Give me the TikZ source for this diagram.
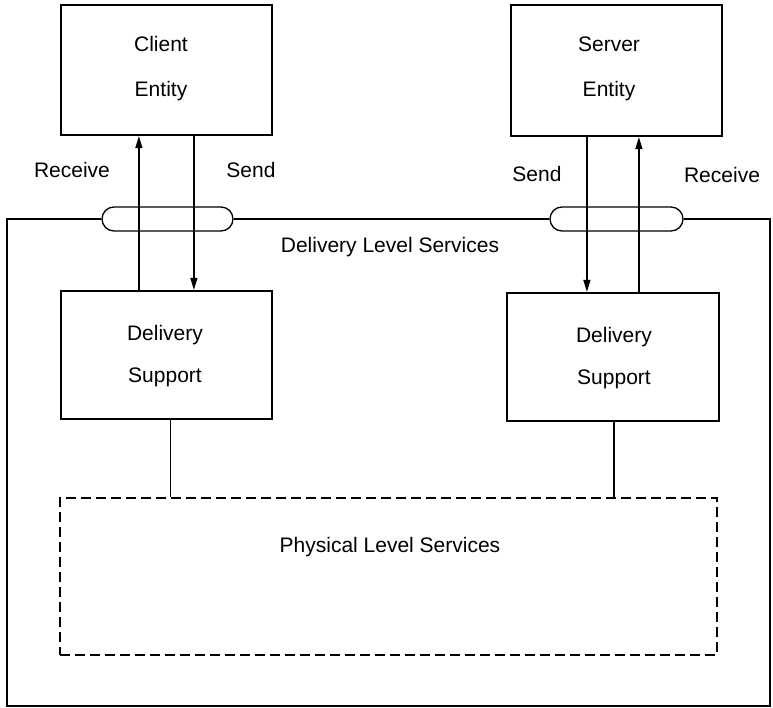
\documentclass[tikz,border=0pt]{standalone}
\usepackage{fontspec}
\setmainfont{Liberation Sans}
\usetikzlibrary{arrows.meta,calc}
\begin{document}
\begin{tikzpicture}[x=1pt,y=-1pt,
  font=\fontsize{21}{25}\selectfont,
  entitybox/.style={draw,line width=2.2pt,minimum width=211pt,minimum height=130pt,inner sep=0pt},
  boxtext/.style={align=center,inner sep=0pt},
  oval/.style={draw,line width=1.3pt,rounded corners=12pt,minimum height=24pt,inner sep=0pt},
  frame/.style={line width=2.2pt},
  flow/.style={line width=1.3pt,-{Triangle[length=12pt,width=7pt]}},
  link/.style={line width=1.2pt},
  physbox/.style={draw,line width=2.5pt,dash pattern=on 10pt off 5pt,
    minimum width=657pt,minimum height=157pt},
  lbl/.style={inner sep=0pt}
]
\useasboundingbox (0,0) rectangle (773,708);

% upper-level entities
\node[entitybox] (ce) at (166.5,70) {};
\node[boxtext] (cetext) at (161,69) {Client\\[20pt]Entity};
\node[entitybox,minimum height=131pt] (se) at (616.5,70.5) {};
\node[boxtext] (setext) at (609,69) {Server\\[20pt]Entity};

% delivery support blocks
\node[entitybox,minimum height=128pt] (ds1) at (166.5,355) {};
\node[boxtext] (ds1text) at (165,356) {Delivery\\[17pt]Support};
\node[entitybox,minimum width=212pt,minimum height=128pt] (ds2) at (613,357) {};
\node[boxtext] (ds2text) at (614,358) {Delivery\\[17pt]Support};

% service access points on the delivery-level boundary
\node[oval,minimum width=131pt] (ovl) at (167.5,219) {};
\node[oval,minimum width=133pt] (ovr) at (616.5,219) {};

% delivery-level boundary
\coordinate (tl) at (7,219);
\coordinate (bl) at (7,706);
\coordinate (br) at (770,706);
\coordinate (tr) at (770,219);
\draw[frame] (ovl.west) -- (tl) -- (bl) -- (br) -- (tr) -- (ovr.east);
\draw[frame] (ovl.east) -- (ovr.west);

% physical level
\node[physbox] (phys) at (388.5,576.5) {};
\node[lbl] (physlbl) at (390,547) {Physical Level Services};
\node[lbl] (dlvlbl) at (390,247) {Delivery Level Services};

% client side send / receive
\draw[flow] ([xshift=79pt]ds1.north west) -- ([xshift=79pt]ds1.north west |- ce.south);
\draw[flow] ([xshift=134pt]ce.south west) -- ([xshift=134pt]ce.south west |- ds1.north);
\node[lbl] (crecv) at (72,170) {Receive};
\node[lbl] (csend) at (251,170) {Send};

% server side send / receive
\draw[flow] ([xshift=77pt]se.south west) -- ([xshift=77pt]se.south west |- ds2.north);
\draw[flow] ([xshift=133pt]ds2.north west) -- ([xshift=133pt]ds2.north west |- se.south);
\node[lbl] (ssend) at (537,174) {Send};
\node[lbl] (srecv) at (722,175) {Receive};

% links down to the physical level
\draw[link] ([xshift=4pt]ds1.south) -- ([xshift=4pt]ds1.south |- phys.north);
\draw[link] ([xshift=1pt]ds2.south) -- ([xshift=1pt]ds2.south |- phys.north);
\end{tikzpicture}
\end{document}
